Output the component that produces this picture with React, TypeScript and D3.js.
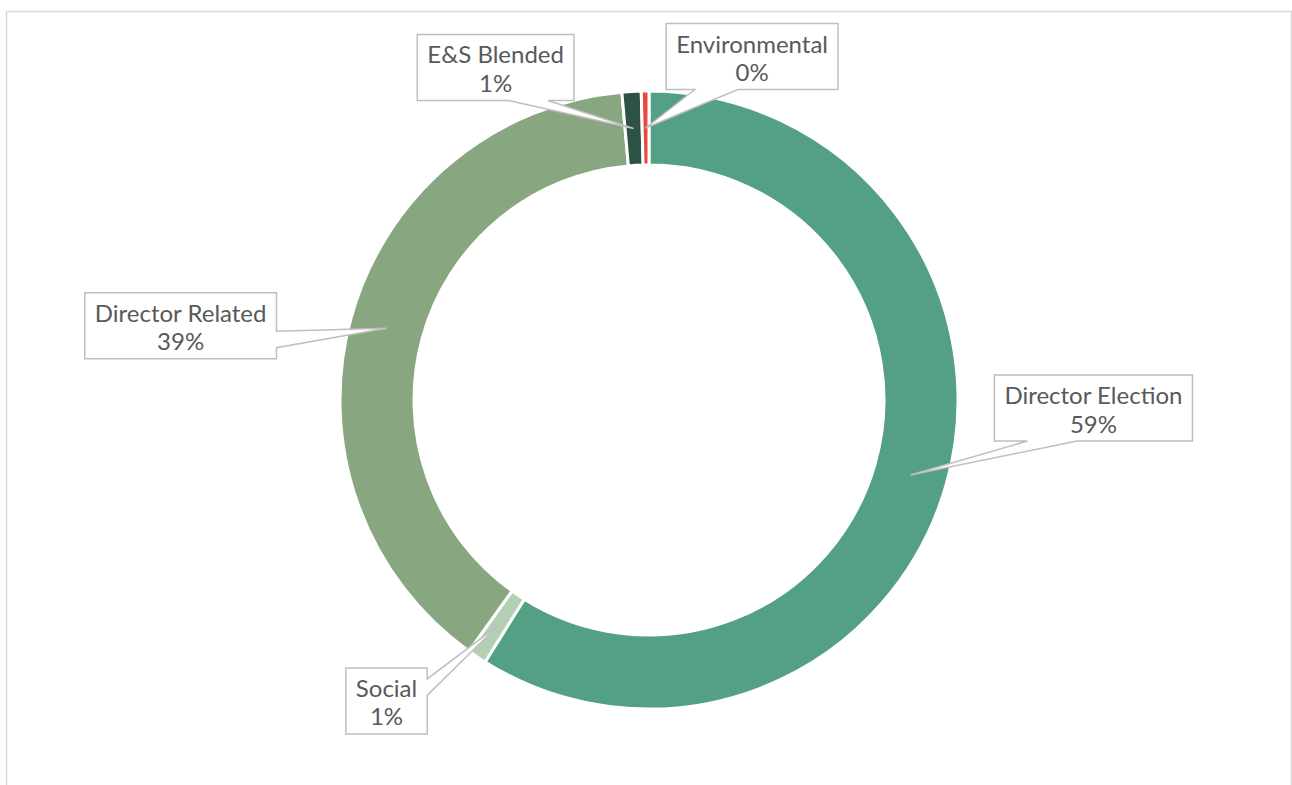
import React, { useEffect, useRef } from 'react'
import * as d3 from 'd3'

const categories = ['Director Election', 'Social', 'Director Related', 'E&S Blended', 'Environmental']
const shares = [58.9, 1.0, 38.7, 1.0, 0.4]
const colors = ['#54a085', '#b3cfb4', '#88a680', '#2d5142', '#e8493a']
// where each callout box sits, relative to the point it points at
const labelOffsets: [number, number][] = [[183, -67], [-111, 75], [-206, -2.5], [-138, -61], [106.5, -71.5]]

const W = 1292
const H = 785

// Excel style wedge callout: rectangle with a pointer from one edge to the tip
function calloutPath(x0: number, y0: number, w: number, h: number, tx: number, ty: number) {
    const cx = x0 + w / 2, cy = y0 + h / 2
    const nx = (tx - cx) / w, ny = (ty - cy) / h
    const x1 = x0 + w, y1 = y0 + h
    const tip = `L${tx},${ty}`
    if (Math.abs(nx) > Math.abs(ny)) {
        const a = ny < 0 ? [1 / 6, 5 / 12] : [7 / 12, 5 / 6]
        const ya = y0 + a[0] * h, yb = y0 + a[1] * h
        if (nx > 0) return `M${x0},${y0}L${x1},${y0}L${x1},${ya}${tip}L${x1},${yb}L${x1},${y1}L${x0},${y1}Z`
        return `M${x0},${y0}L${x1},${y0}L${x1},${y1}L${x0},${y1}L${x0},${yb}${tip}L${x0},${ya}Z`
    }
    const a = nx < 0 ? [1 / 6, 5 / 12] : [7 / 12, 5 / 6]
    const xa = x0 + a[0] * w, xb = x0 + a[1] * w
    if (ny > 0) return `M${x0},${y0}L${x1},${y0}L${x1},${y1}L${xb},${y1}${tip}L${xa},${y1}L${x0},${y1}Z`
    return `M${x0},${y0}L${xa},${y0}${tip}L${xb},${y0}L${x1},${y0}L${x1},${y1}L${x0},${y1}Z`
}

const DonutChart: React.FC = () => {
    const svgRef = useRef<SVGSVGElement>(null)

    useEffect(() => {
        if (!svgRef.current) return
        const svg = d3.select(svgRef.current)
        svg.selectAll('*').remove()

        // chart area frame, runs off the bottom of the page
        svg.append('rect')
            .attr('x', 6.5).attr('y', 11.5)
            .attr('width', 1285).attr('height', 800)
            .attr('fill', '#fff').attr('stroke', '#d9d9d9').attr('stroke-width', 1.5)

        const cx = 649, cy = 400
        const outerR = 309, innerR = 235
        const g = svg.append('g').attr('transform', `translate(${cx},${cy})`)

        const data = categories.map((name, i) => ({ name, value: shares[i], color: colors[i] }))
        const total = d3.sum(shares)
        const pie = d3.pie<typeof data[0]>().value(d => d.value).sort(null)
        const arcs = pie(data)

        const arc = d3.arc<d3.PieArcDatum<typeof data[0]>>()
            .innerRadius(innerR)
            .outerRadius(outerR)

        g.selectAll('path.slice')
            .data(arcs)
            .enter().append('path')
            .attr('class', 'slice')
            .attr('d', arc)
            .attr('fill', d => d.data.color)
            .attr('stroke', '#fff')
            .attr('stroke-width', 3)
            .attr('stroke-linejoin', 'round')

        const fmt = d3.format('.0%')
        const fontSize = 24
        const lineH = 28.5
        const padX = 10
        const boxH = 66

        arcs.forEach((d, i) => {
            const [ax, ay] = arc.centroid(d)
            const tx = cx + ax, ty = cy + ay
            const bcx = tx + labelOffsets[i][0], bcy = ty + labelOffsets[i][1]

            const lg = svg.append('g')
            const path = lg.append('path')
                .attr('fill', '#fff').attr('stroke', '#bfbfbf').attr('stroke-width', 1.5)
                .attr('stroke-linejoin', 'miter')

            const text = lg.append('text')
                .attr('text-anchor', 'middle')
                .attr('font-family', 'Lato, "Open Sans", sans-serif')
                .attr('font-size', fontSize)
                .attr('fill', '#595959')
            const t1 = text.append('tspan').attr('x', bcx).attr('y', bcy - 4).text(d.data.name)
            const t2 = text.append('tspan').attr('x', bcx).attr('y', bcy - 4 + lineH).text(fmt(d.data.value / total))

            const tw = Math.max((t1.node() as SVGTextContentElement).getComputedTextLength(),
                (t2.node() as SVGTextContentElement).getComputedTextLength())
            const boxW = tw + padX * 2
            path.attr('d', calloutPath(bcx - boxW / 2, bcy - boxH / 2, boxW, boxH, tx, ty))
        })
    }, [])

    return <svg ref={svgRef} width={W} height={H} style={{ display: 'block' }} />
}

export default function App() {
    return (
        <div style={{ position: 'fixed', left: 0, top: 0, width: W, height: H, background: '#fff' }}>
            <DonutChart />
        </div>
    )
}
